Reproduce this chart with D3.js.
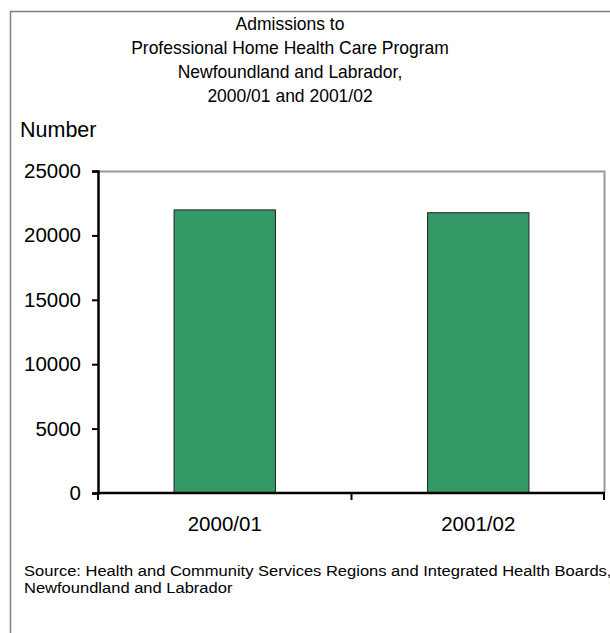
<!DOCTYPE html>
<html>
<head>
<meta charset="utf-8">
<script src="https://cdn.jsdelivr.net/npm/d3@7"></script>
<style>
  body { margin: 0; background: #fff; }
  text { font-family: Arial, "Liberation Sans", sans-serif; fill: #000; }
</style>
</head>
<body>
<div id="chart"></div>
<script>
var years = ["2000/01", "2001/02"];
var admissions = [21980, 21760];
var yTicks = [0, 5000, 10000, 15000, 20000, 25000];
var titleLines = ["Admissions to", "Professional Home Health Care Program",
    "Newfoundland and Labrador,", "2000/01 and 2001/02"];
var sourceLines = ["Source:  Health and Community Services Regions and Integrated Health Boards,",
    "Newfoundland and Labrador"];

var W = 610, H = 633;
var margin = { top: 171, right: 5, bottom: 140, left: 98 },
    width = W - margin.left - margin.right,
    height = H - margin.top - margin.bottom;

var svg = d3.select("#chart").append("svg")
    .attr("width", W)
    .attr("height", H);

// outer frame (only left and top edges are in view)
svg.append("path")
    .attr("d", "M10.5," + H + "V11.5H" + W)
    .attr("fill", "none")
    .attr("stroke", "#808080")
    .attr("stroke-width", 1.5);

// title
svg.append("g").selectAll("text")
    .data(titleLines)
    .enter().append("text")
    .attr("transform", (d, i) => "translate(290," + (30 + i * 24) + ") scale(0.94,1)")
    .attr("text-anchor", "middle")
    .style("font-size", "18.6px")
    .text(d => d);

svg.append("text")
    .attr("x", 20)
    .attr("y", 137)
    .style("font-size", "21.5px")
    .text("Number");

var g = svg.append("g")
    .attr("transform", "translate(" + margin.left + "," + margin.top + ")");

var x = d3.scaleBand()
    .domain(years)
    .range([0, width])
    .paddingInner(0.6)
    .paddingOuter(0.3);

var y = d3.scaleLinear()
    .domain([0, 25000])
    .range([height, 0]);

// plot area border (top & right, grey)
g.append("path")
    .attr("d", "M0,0.5H" + (width - 0.5) + "V" + height)
    .attr("fill", "none")
    .attr("stroke", "#999")
    .attr("stroke-width", 2);

// bars
g.selectAll("rect.bar")
    .data(admissions)
    .enter().append("rect")
    .attr("class", "bar")
    .attr("x", (d, i) => x(years[i]))
    .attr("y", d => y(d))
    .attr("width", x.bandwidth())
    .attr("height", d => height - y(d))
    .attr("fill", "#339966")
    .attr("stroke", "#222")
    .attr("stroke-width", 1);

// y axis
var yAxis = g.append("g")
    .call(d3.axisLeft(y).tickValues(yTicks).tickSize(6).tickPadding(11).tickFormat(d3.format("d")));
yAxis.select(".domain").attr("stroke", "#000").attr("stroke-width", 2.5);
yAxis.selectAll(".tick line").attr("stroke", "#000").attr("stroke-width", 2);
yAxis.selectAll(".tick text")
    .style("font-size", "20.5px")
    .style("font-family", "Arial, 'Liberation Sans', sans-serif");

// x axis: ticks between categories (Excel style)
var step = x.step();
var xAxis = g.append("g")
    .attr("transform", "translate(0," + height + ")");
xAxis.append("line")
    .attr("x1", 0).attr("x2", width)
    .attr("stroke", "#000").attr("stroke-width", 2.5);
var bounds = [0].concat(years.map(c => x(c) + x.bandwidth() / 2 + step / 2));
xAxis.selectAll("line.tick")
    .data(bounds)
    .enter().append("line")
    .attr("class", "tick")
    .attr("x1", d => Math.min(d, width - 1)).attr("x2", d => Math.min(d, width - 1))
    .attr("y1", 0).attr("y2", 7)
    .attr("stroke", "#000").attr("stroke-width", 2);
xAxis.selectAll("text")
    .data(years)
    .enter().append("text")
    .attr("x", d => x(d) + x.bandwidth() / 2)
    .attr("y", 38)
    .attr("text-anchor", "middle")
    .style("font-size", "20.5px")
    .text(d => d);

// source note
svg.append("g").selectAll("text")
    .data(sourceLines)
    .enter().append("text")
    .attr("transform", (d, i) => "translate(24," + (576 + i * 17) + ") scale(1.14,1)")
    .style("font-size", "14.5px")
    .text(d => d);
</script>
</body>
</html>
